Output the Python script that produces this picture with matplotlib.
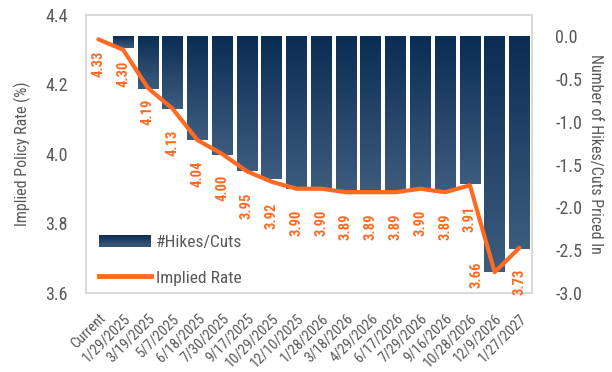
import matplotlib.pyplot as plt
import numpy as np
from matplotlib.legend_handler import HandlerBase
from matplotlib.patches import Rectangle
from matplotlib.lines import Line2D
from matplotlib.colors import LinearSegmentedColormap

plt.rcParams['font.family'] = ['Roboto Condensed', 'Roboto', 'DejaVu Sans']
plt.rcParams['axes.unicode_minus'] = False

# ── Data ──
dates = ["Current", "1/29/2025", "3/19/2025", "5/7/2025", "6/18/2025", "7/30/2025",
         "9/17/2025", "10/29/2025", "12/10/2025", "1/28/2026", "3/18/2026",
         "4/29/2026", "6/17/2026", "7/29/2026", "9/16/2026", "10/28/2026",
         "12/9/2026", "1/27/2027"]
implied_rate = [4.33, 4.30, 4.19, 4.13, 4.04, 4.00, 3.95, 3.92, 3.90, 3.90,
                3.89, 3.89, 3.89, 3.90, 3.89, 3.91, 3.66, 3.73]
hikes_cuts = [0.0, -0.14, -0.61, -0.85, -1.21, -1.39, -1.57, -1.67, -1.78, -1.78,
              -1.81, -1.83, -1.81, -1.78, -1.81, -1.73, -2.76, -2.49]

ORANGE = "#ff6a22"
GRAY = "#595959"
FRAME = "#d9d9d9"
bar_cmap = LinearSegmentedColormap.from_list("navy", ["#0b2d53", "#3d5c7e"])


class GradientHandler(HandlerBase):
    """Legend patch with the same top-to-bottom gradient as the bars."""
    def create_artists(self, legend, orig_handle, xdescent, ydescent,
                       width, height, fontsize, trans):
        n = 16
        arts = []
        for i in range(n):
            c = bar_cmap(1 - (i + 0.5) / n)
            arts.append(Rectangle((-xdescent, -ydescent + i * height / n),
                                  width, height / n * 1.05, facecolor=c,
                                  edgecolor="none", transform=trans))
        return arts


fig = plt.figure(figsize=(6.12, 3.72), dpi=100)
ax_l = fig.add_axes([0.1405, 0.2124, 0.7285, 0.7473])
ax_r = ax_l.twinx()
ax_l.set_zorder(ax_r.get_zorder() + 1)
ax_l.patch.set_visible(False)

x = np.arange(len(dates))

# bars with per-bar vertical gradient
grad = np.linspace(0, 1, 256).reshape(-1, 1)
bars = ax_r.bar(x, hikes_cuts, width=0.84, color="none", edgecolor="none")
for b in bars:
    h = b.get_height()
    if h == 0:
        continue
    x0 = b.get_x()
    im = ax_r.imshow(grad, cmap=bar_cmap, aspect="auto", origin="upper",
                     extent=(x0, x0 + b.get_width(), h, 0), zorder=1)
    im.set_clip_path(b)

ax_r.set_xlim(-0.5, len(dates) - 0.5)
ax_r.set_ylim(-3.0, 0.25)
ax_r.set_yticks(np.arange(0, -3.01, -0.5))
ax_r.set_yticklabels([f"{v:.1f}" for v in np.arange(0, -3.01, -0.5)])
ax_r.tick_params(axis="y", length=0, pad=17, labelsize=13, labelcolor=GRAY)
ax_r.set_ylabel("Number of Hikes/Cuts Priced In", rotation=270, fontsize=11.5,
                color=GRAY, labelpad=15)
for s in ax_r.spines.values():
    s.set_visible(False)

# implied rate line
line, = ax_l.plot(x, implied_rate, color=ORANGE, linewidth=3, solid_capstyle="round",
                  zorder=3)
for i, (xi, r) in enumerate(zip(x, implied_rate)):
    if i == 16:
        ax_l.annotate(f"{r:.2f}", (xi, r), xytext=(-13, -2), textcoords="offset points",
                      rotation=90, ha="center", va="center", fontsize=10.5,
                      fontweight="bold", color=ORANGE)
    else:
        off = -8 if i < 3 else -15
        ax_l.annotate(f"{r:.2f}", (xi, r), xytext=(0, off), textcoords="offset points",
                      rotation=90, ha="center", va="top", fontsize=10.5,
                      fontweight="bold", color=ORANGE)

ax_l.set_xlim(-0.5, len(dates) - 0.5)
ax_l.set_ylim(3.6, 4.4)
ax_l.set_yticks(np.arange(3.6, 4.41, 0.2))
ax_l.set_yticklabels([f"{v:.1f}" for v in np.arange(3.6, 4.41, 0.2)])
ax_l.tick_params(axis="y", length=0, pad=13, labelsize=13, labelcolor=GRAY)
ax_l.set_xticks(x)
ax_l.set_xticklabels(dates, rotation=45, ha="right", rotation_mode="anchor",
                     fontsize=10.5, color=GRAY)
ax_l.tick_params(axis="x", length=0, pad=13)
ax_r.tick_params(axis="x", length=0, labelbottom=False)
ax_l.set_ylabel("Implied Policy Rate (%)", fontsize=11.5, color=GRAY, labelpad=10)
for s in ax_l.spines.values():
    s.set_color(FRAME)
    s.set_linewidth(1.5)

proxy = Rectangle((0, 0), 1, 1)
leg = ax_l.legend([proxy, Line2D([0], [0], color=ORANGE, linewidth=3.5)],
                  ["#Hikes/Cuts", "Implied Rate"],
                  handler_map={proxy: GradientHandler()},
                  loc="lower left", bbox_to_anchor=(0.0, -0.02), frameon=False,
                  fontsize=12.5, handlelength=3.0, handleheight=0.75,
                  labelspacing=1.15, handletextpad=0.3, borderaxespad=0.35)
for t in leg.get_texts():
    t.set_color(GRAY)

fig.savefig("out.png", dpi=100)
